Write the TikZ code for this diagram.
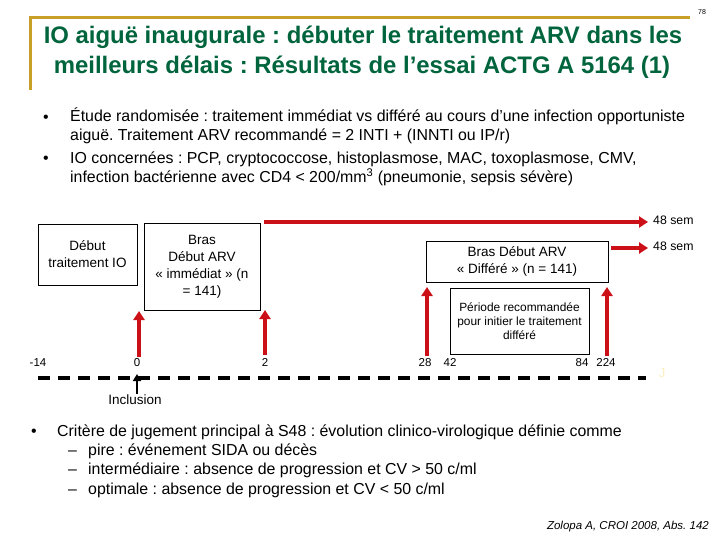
\documentclass[tikz,border=0pt]{standalone}
\usepackage{fontspec}
\setmainfont{Liberation Sans}
\usetikzlibrary{arrows.meta}
\definecolor{gold}{RGB}{200,160,40}
\definecolor{titlegreen}{RGB}{0,100,60}
\definecolor{arrred}{RGB}{204,16,24}
\definecolor{faintyellow}{RGB}{250,240,190}
\frenchspacing
\tikzset{
  x=1pt,y=-1pt,
  txt/.style={inner sep=0pt,text height=0.72em,text depth=0.2em},
  body/.style={txt,anchor=west,font=\fontsize{15.9}{18}\selectfont},
  lbl/.style={txt,font=\fontsize{11.5}{13}\selectfont},
  boxed/.style={draw,line width=0.8pt,inner sep=0pt,align=center,font=\fontsize{13.5}{17}\selectfont},
  redarrow/.style={draw=arrred,line width=3.5pt,-{Triangle[length=9pt,width=11pt]}},
}
\begin{document}
\begin{tikzpicture}
\useasboundingbox (0,0) rectangle (720,540);
% title frame
\draw[gold,line width=3pt] (30,90) -- (30,18) -- (690,18);
\node[txt,font=\fontsize{7}{8}\selectfont] (pg) at (702,12) {78};
\node[txt,font=\bfseries\fontsize{23.9}{28}\selectfont,text=titlegreen] (t1) at (363,41) {IO aiguë inaugurale : débuter le traitement ARV dans les};
\node[txt,font=\bfseries\fontsize{23.9}{28}\selectfont,text=titlegreen] (t2) at (362,71) {meilleurs délais : Résultats de l’essai ACTG A 5164 (1)};
% top bullets
\node[body] (b1) at (43,120) {•};
\node[body] (l1) at (70,119) {Étude randomisée : traitement immédiat vs différé au cours d'une infection opportuniste};
\node[body] (l2) at (70,138) {aiguë. Traitement ARV recommandé = 2 INTI + (INNTI ou IP/r)};
\node[body] (b2) at (43,161) {•};
\node[body] (l3) at (70,161) {IO concernées : PCP, cryptococcose, histoplasmose, MAC, toxoplasmose, CMV,};
\node[body] (l4) at (70,180) {infection bactérienne avec CD4 < 200/mm\textsuperscript{3} (pneumonie, sepsis sévère)};
% boxes
\node[boxed,minimum width=99pt,minimum height=61pt] (io) at (87.5,254.5) {Début\\traitement IO};
\node[boxed,minimum width=116pt,minimum height=87pt] (imm) at (202,266.5) {Bras\\Début ARV\\« immédiat » (n\\= 141)};
\node[boxed,minimum width=182pt,minimum height=41pt] (diff) at (517,261.5) {Bras Début ARV\\« Différé » (n = 141)};
\node[boxed,minimum width=139pt,minimum height=66pt,font=\fontsize{11.9}{14}\selectfont] (per) at (519.5,321) {Période recommandée\\pour initier le traitement\\différé};
% 48 sem arrows
\coordinate (r1s) at (264,222);
\coordinate (r1e) at (648,222);
\node[lbl,anchor=west,font=\fontsize{12.3}{14}\selectfont] (s1) at (653,222) {48 sem};
\draw[redarrow] (r1s) -- (r1e);
\coordinate (r2e) at (648,248);
\node[lbl,anchor=west,font=\fontsize{12.3}{14}\selectfont] (s2) at (653,248) {48 sem};
\draw[redarrow] (diff.east |- r2e) ++(3,0) -- (r2e);
% up arrows
\coordinate (a0) at (139,357);
\coordinate (a2) at (265,355);
\coordinate (a28) at (427,356);
\coordinate (a224) at (607,356);
\draw[redarrow] (a0) -- (139,311);
\draw[redarrow] (a2) -- (265,310);
\draw[redarrow] (a28) -- (427,287);
\draw[redarrow] (a224) -- (607,287);
% axis labels
\node[lbl] (n14) at (38,364) {-14};
\node[lbl] (n0) at (137,364) {0};
\node[lbl] (n2) at (265,364) {2};
\node[lbl] (n28) at (425,364) {28};
\node[lbl] (n42) at (450,364) {42};
\node[lbl] (n84) at (582,364) {84};
\node[lbl] (n224) at (606,364) {224};
% dashed timeline
\coordinate (tl1) at (38,378);
\coordinate (tl2) at (646,378);
\draw[line width=3.5pt,dash pattern=on 12pt off 8pt] (tl1) -- (tl2);
\node[txt,font=\fontsize{13}{14}\selectfont,text=faintyellow] (jj) at (662,375) {J};
% inclusion
\coordinate (inc) at (137,394);
\draw[line width=2.5pt,-{Triangle[length=7pt,width=8pt]}] (inc) -- (137,374);
\node[lbl,font=\fontsize{13.5}{14}\selectfont] (incl) at (135,402) {Inclusion};
% bottom bullets
\node[body] (b3) at (31,434) {•};
\node[body] (m1) at (57,434) {Critère de jugement principal à S48 : évolution clinico-virologique définie comme};
\node[body] (d1) at (68,453) {–};
\node[body] (m2) at (88,453) {pire : événement SIDA ou décès};
\node[body] (d2) at (68,472) {–};
\node[body] (m3) at (88,472) {intermédiaire : absence de progression et CV > 50 c/ml};
\node[body] (d3) at (68,492) {–};
\node[body] (m4) at (88,492) {optimale : absence de progression et CV < 50 c/ml};
\node[txt,anchor=east,font=\itshape\fontsize{11.5}{13}\selectfont] (ref) at (709,527) {Zolopa A, CROI 2008, Abs. 142};
\end{tikzpicture}
\end{document}
